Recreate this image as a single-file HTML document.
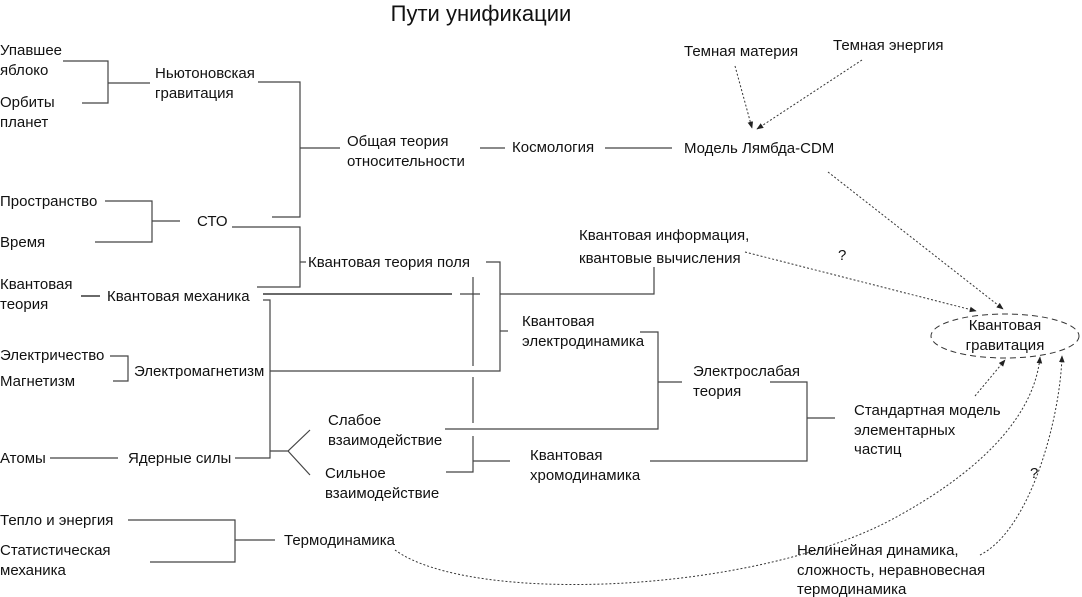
<!DOCTYPE html>
<html><head><meta charset="utf-8"><style>
html,body{margin:0;padding:0;background:#fff}
svg{display:block}
text{font-family:"Liberation Sans","DejaVu Sans",sans-serif;font-size:15px;fill:#111}
</style></head><body>
<svg width="1082" height="597" viewBox="0 0 1082 597" xmlns="http://www.w3.org/2000/svg">
<defs>
<marker id="a" viewBox="0 0 10 10" refX="9" refY="5" markerWidth="7" markerHeight="7" orient="auto"><path d="M0,1 L10,5 L0,9 z" fill="#222"/></marker>
</defs>
<text x="481" y="21" text-anchor="middle" style="font-size:22px">Пути унификации</text>

<g stroke="#444" stroke-width="1.2" fill="none">
<path d="M63,61 H108 V103 H82"/><path d="M108,83 H150"/>
<path d="M258,82 H300 V217 H272"/><path d="M300,148 H340"/>
<path d="M480,148 H505"/><path d="M605,148 H672"/>
<path d="M105,201 H152 V242 H95"/><path d="M152,221 H180"/>
<path d="M232,227 H300 V287 H257"/><path d="M300,262 H306"/>
<path d="M486,262 H500 V371 H270"/>
<path d="M500,294 H654 V267"/>
<path d="M500,331 H508"/>
<path d="M473,277 V366 M473,377 V423"/>
<path d="M460,294 H480"/>
<path d="M263,294 H452" stroke="#111"/>
<path d="M81,296 H100" stroke="#111"/>
<path d="M263,300 H270 V458 H235"/>
<path d="M270,451 H288 L310,430 M288,451 L310,475"/>
<path d="M110,356 H128 V381 H113"/>
<path d="M50,458 H118"/>
<path d="M445,429 H658 V332 H640"/><path d="M658,382 H682"/>
<path d="M473,436 V472 H446"/><path d="M473,461 H510"/>
<path d="M650,461 H807 V382 H770"/><path d="M807,418 H835"/>
<path d="M128,520 H235 V562 H150"/><path d="M235,540 H275"/>
</g>

<g stroke="#333" stroke-width="1" fill="none" stroke-dasharray="2,2">
<path d="M735,66 L752,128" marker-end="url(#a)"/>
<path d="M862,60 L757,129" marker-end="url(#a)"/>
<path d="M828,172 L1003,309" marker-end="url(#a)"/>
<path d="M745,252 L976,311" marker-end="url(#a)"/>
<path d="M975,396 L1005,360" marker-end="url(#a)"/>
<path d="M395,550 C470,605 760,595 900,515 C990,465 1035,410 1040,357" marker-end="url(#a)"/>
<path d="M980,555 C1030,530 1060,420 1062,356" marker-end="url(#a)"/>
</g>
<ellipse cx="1005" cy="336" rx="74" ry="22" fill="none" stroke="#333" stroke-dasharray="6,4"/>

<text x="0" y="55">Упавшее</text><text x="0" y="75">яблоко</text>
<text x="0" y="107">Орбиты</text><text x="0" y="127">планет</text>
<text x="155" y="78">Ньютоновская</text><text x="155" y="98">гравитация</text>
<text x="347" y="146">Общая теория</text><text x="347" y="166">относительности</text>
<text x="512" y="152">Космология</text>
<text x="684" y="153">Модель Лямбда-CDM</text>
<text x="684" y="56">Темная материя</text>
<text x="833" y="50">Темная энергия</text>
<text x="0" y="206">Пространство</text><text x="0" y="247">Время</text>
<text x="197" y="226">СТО</text>
<text x="308" y="267">Квантовая теория поля</text>
<text x="0" y="289">Квантовая</text><text x="0" y="309">теория</text>
<text x="107" y="301">Квантовая механика</text>
<text x="579" y="240">Квантовая информация,</text>
<text x="579" y="263">квантовые вычисления</text>
<text x="838" y="260">?</text>
<text x="1005" y="330" text-anchor="middle">Квантовая</text>
<text x="1005" y="350" text-anchor="middle">гравитация</text>
<text x="522" y="326">Квантовая</text><text x="522" y="346">электродинамика</text>
<text x="0" y="360">Электричество</text><text x="0" y="386">Магнетизм</text>
<text x="134" y="376">Электромагнетизм</text>
<text x="693" y="376">Электрослабая</text><text x="693" y="396">теория</text>
<text x="854" y="415">Стандартная модель</text><text x="854" y="435">элементарных</text><text x="854" y="454">частиц</text>
<text x="328" y="425">Слабое</text><text x="328" y="445">взаимодействие</text>
<text x="325" y="478">Сильное</text><text x="325" y="498">взаимодействие</text>
<text x="0" y="463">Атомы</text><text x="128" y="463">Ядерные силы</text>
<text x="530" y="460">Квантовая</text><text x="530" y="480">хромодинамика</text>
<text x="1030" y="478">?</text>
<text x="0" y="525">Тепло и энергия</text>
<text x="0" y="555">Статистическая</text><text x="0" y="575">механика</text>
<text x="284" y="545">Термодинамика</text>
<text x="797" y="555">Нелинейная динамика,</text>
<text x="797" y="575">сложность, неравновесная</text>
<text x="797" y="594">термодинамика</text>
</svg>
</body></html>
